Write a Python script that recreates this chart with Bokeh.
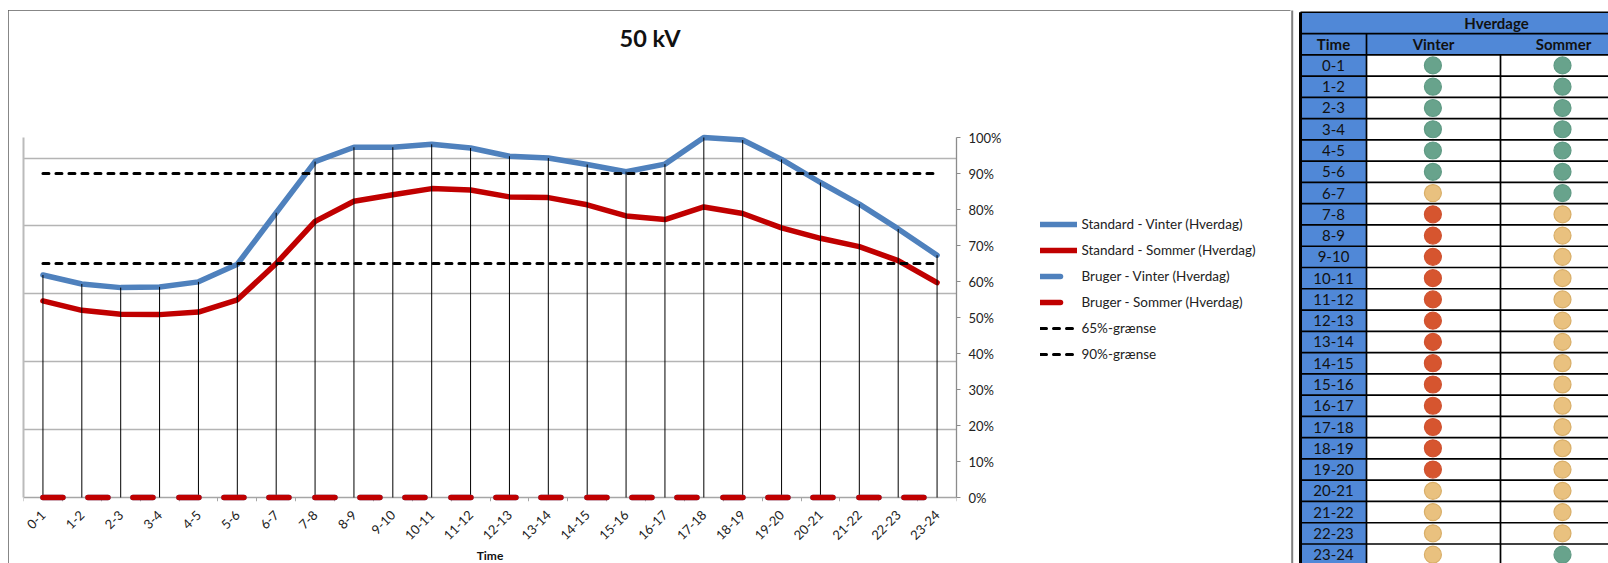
from bokeh.plotting import figure
from bokeh.layouts import row
from bokeh.embed import file_html
from bokeh.resources import INLINE
from bokeh.models import (Range1d, FixedTicker, LinearAxis, Legend, LegendItem, PrintfTickFormatter,
                          Title, ColumnDataSource, InlineStyleSheet)
from bokeh.core.properties import value

FONT = "Lato"

hours = ["0-1","1-2","2-3","3-4","4-5","5-6","6-7","7-8","8-9","9-10","10-11","11-12","12-13","13-14",
         "14-15","15-16","16-17","17-18","18-19","19-20","20-21","21-22","22-23","23-24"]
standard_vinter = [61.8,59.3,58.3,58.5,59.9,64.8,79.1,93.3,97.3,97.3,98.1,97.1,94.8,94.3,92.5,90.5,92.6,
                   100.0,99.3,93.9,87.5,81.5,74.6,67.3]
standard_sommer = [54.6,52.0,50.9,50.8,51.5,54.9,65.0,76.7,82.3,84.1,85.8,85.4,83.5,83.3,81.3,78.2,77.2,
                   80.7,78.9,74.9,72.0,69.7,65.8,59.7]
bruger_vinter = [0]*24
bruger_sommer = [0]*24
graense_65 = [65]*24
graense_90 = [90]*24
grid_levels = [18.86,37.72,56.58,75.44,94.3]
y_ticks = [0,10,20,30,40,50,60,70,80,90,100]
status_vinter = ["g"]*6 + ["y"] + ["r"]*13 + ["y"]*4
status_sommer = ["g"]*7 + ["y"]*16 + ["g"]

BLUE, RED = "#4F81BD", "#C00000"
xs = list(range(24))

p = figure(width=1285, height=553, margin=(10,0,0,8), output_backend="svg", toolbar_location=None,
           x_range=Range1d(-0.5,23.5), y_range=Range1d(-4/3.6,444/3.6),
           y_axis_location="right", min_border_left=15, min_border_right=0,
           min_border_top=43, min_border_bottom=0, outline_line_color=None)
p.frame_align = False
p.frame_width = 933
p.frame_height = 448
p.stylesheets = [InlineStyleSheet(css=":host { outline: 1.5px solid #5F5F5F; outline-offset: -1.5px; }")]

p.title = Title(text="50 kV", align="left", offset=596, standoff=4, vertical_align="bottom",
                text_font=FONT, text_font_size="23.5px", text_font_style="bold", text_color="#111111")

p.xgrid.visible = False
p.ygrid[0].ticker = FixedTicker(ticks=grid_levels)
p.ygrid[0].grid_line_color = "#B4B4B4"
p.ygrid[0].grid_line_width = 1.6

ya = p.yaxis[0]
ya.ticker = FixedTicker(ticks=y_ticks)
ya.formatter = PrintfTickFormatter(format="%d%%")
ya.bounds = (0,100)
ya.axis_line_color = "#8C8C8C"
ya.axis_line_width = 1.3
ya.major_tick_line_color = "#8C8C8C"
ya.major_tick_out = 4
ya.major_tick_in = 0
ya.minor_tick_line_color = None
ya.major_label_text_font = FONT
ya.major_label_text_font_size = "13px"
ya.major_label_text_color = "#222222"
ya.major_label_standoff = 8

la = LinearAxis(ticker=FixedTicker(ticks=[]), bounds=(0,100), axis_line_color="#BBBBBB", axis_line_width=2,
                major_tick_line_color=None, minor_tick_line_color=None, major_label_text_font_size="0px")
p.add_layout(la, "left")

# labelled axis in the panel below the frame
xa = p.xaxis[0]
xa.ticker = FixedTicker(ticks=xs)
xa.major_label_overrides = {i: h for i, h in enumerate(hours)}
xa.major_label_orientation = 0.785
xa.major_tick_line_color = None
xa.minor_tick_line_color = None
xa.axis_line_color = None
xa.major_label_text_font = FONT
xa.major_label_text_font_size = "13px"
xa.major_label_text_color = "#222222"
xa.major_label_standoff = 5
xa.axis_label = "Time"
xa.axis_label_text_font = FONT
xa.axis_label_text_font_style = "bold"
xa.axis_label_text_font_size = "12px"
xa.axis_label_text_color = "#111111"
xa.axis_label_standoff = 1

# axis line and boundary ticks at 0 %
xb = LinearAxis(fixed_location=0, ticker=FixedTicker(ticks=[], minor_ticks=[i-0.5 for i in range(25)]),
                major_tick_line_color=None, minor_tick_line_color="#A6A6A6", minor_tick_out=4, minor_tick_in=0,
                axis_line_color="#A6A6A6", axis_line_width=1.5, major_label_text_font_size="0px", level="underlay")
p.add_layout(xb, "below")

r_sv = p.line(xs, standard_vinter, line_color=BLUE, line_width=5.5, line_cap="round", line_join="round")
r_ss = p.line(xs, standard_sommer, line_color=RED, line_width=5.5, line_cap="round", line_join="round")
p.segment(xs, [0]*24, xs, standard_vinter, line_color="#000000", line_width=1)
r_bv = p.line(xs, bruger_vinter, line_color=BLUE, line_width=5.5, line_cap="round", line_dash="20 25 20 25 20 26")
r_bs = p.line(xs, bruger_sommer, line_color=RED, line_width=5.5, line_cap="round", line_dash="20 25 20 25 20 26")
r_65 = p.line(xs, graense_65, line_color="#000000", line_width=3, line_cap="round", line_dash="6 7")
r_90 = p.line(xs, graense_90, line_color="#000000", line_width=3, line_cap="round", line_dash="6 7")

legend = Legend(items=[LegendItem(label="Standard - Vinter (Hverdag)", renderers=[r_sv]),
                       LegendItem(label="Standard - Sommer (Hverdag)", renderers=[r_ss]),
                       LegendItem(label="Bruger - Vinter (Hverdag)", renderers=[r_bv]),
                       LegendItem(label="Bruger - Sommer (Hverdag)", renderers=[r_bs]),
                       LegendItem(label="65%-grænse", renderers=[r_65]),
                       LegendItem(label="90%-grænse", renderers=[r_90])],
                location=(-195,137), ncols=1, background_fill_alpha=0, border_line_color=None,
                padding=0, margin=0, spacing=6, glyph_width=37, glyph_height=20, label_standoff=4,
                label_text_font=FONT, label_text_font_size="13.5px", label_text_color="#222222")
p.add_layout(legend, "right")

# status table, laid over the empty right-hand part of the chart figure
X0, X1, X2, X3 = 1300, 1366, 1500, 1626
FRAME_RIGHT = 1291.7
TABLE_BLUE = "#5088D7"
t = figure(width=318, height=555, output_backend="svg", toolbar_location=None,
           x_range=Range1d(1290,1608), y_range=Range1d(23.917,-2.177),
           min_border=0, outline_line_color=None)
t.frame_align = False
t.stylesheets = [InlineStyleSheet(css=":host { position: absolute !important; left: 1290px !important; top: 8px !important; margin: 0 !important; }")]
t.axis.visible = False
t.grid.visible = False

n = len(hours)
t.segment([FRAME_RIGHT], [-2.083], [FRAME_RIGHT], [n], line_color="#7F7F7F", line_width=2)
t.quad(left=[X0,X0,X1], right=[X3,X1,X3], top=[-2,-1,-1], bottom=[-1,0,0], fill_color=TABLE_BLUE, line_color=None)
t.quad(left=[X0]*n, right=[X1]*n, top=list(range(n)), bottom=[i+1 for i in range(n)], fill_color=TABLE_BLUE, line_color=None)

t.segment([X0]*(n+3), [i-2 for i in range(n+3)], [X3]*(n+3), [i-2 for i in range(n+3)], line_color="#000000", line_width=1.7)
t.segment([X0], [-2], [X0], [n], line_color="#000000", line_width=3)
t.segment([X1], [-1], [X1], [n], line_color="#000000", line_width=1.7)
t.segment([X2], [0], [X2], [n], line_color="#000000", line_width=1.7)

fills = {"g": "#68A38C", "y": "#E9C17F", "r": "#D6552F"}
edges = {"g": "#5F9A84", "y": "#D8AE68", "r": "#CF5230"}
for xc, status in (((X1+X2)/2 - 0.6, status_vinter), ((X2+X3)/2 - 1, status_sommer)):
    src = ColumnDataSource(dict(x=[xc]*n, y=[i+0.5 for i in range(n)],
                                f=[fills[s] for s in status], e=[edges[s] for s in status]))
    t.scatter("x", "y", source=src, size=17, fill_color="f", line_color="e", line_width=1.2)

t.text([(X0+X1)/2]*n, [i+0.5 for i in range(n)], text=hours, text_align="center", text_baseline="middle",
       text_font=value(FONT), text_font_size="15px", text_color="#111111")
t.text([(X1+X3)/2], [-1.5], text=["Hverdage"], text_align="center", text_baseline="middle",
       text_font=value(FONT), text_font_size="15px", text_font_style="bold", text_color="#111111")
t.text([(X0+X1)/2, (X1+X2)/2, (X2+X3)/2], [-0.5]*3, text=["Time","Vinter","Sommer"], text_align="center",
       text_baseline="middle", text_font=value(FONT), text_font_size="15px", text_font_style="bold", text_color="#111111")

layout = row(p, t, spacing=0)
open("out.html", "w").write(file_html(layout, INLINE))
